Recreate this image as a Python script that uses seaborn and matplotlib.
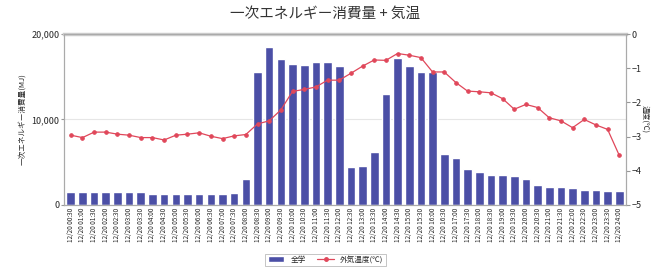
import matplotlib
matplotlib.use("Agg")
import matplotlib.pyplot as plt
import matplotlib.ticker as mticker
import seaborn as sns
import pandas as pd
from matplotlib.lines import Line2D
from matplotlib.patches import Patch

# ---- data ----
times = ["00:30", "01:00", "01:30", "02:00", "02:30", "03:00", "03:30", "04:00",
         "04:30", "05:00", "05:30", "06:00", "06:30", "07:00", "07:30", "08:00",
         "08:30", "09:00", "09:30", "10:00", "10:30", "11:00", "11:30", "12:00",
         "12:30", "13:00", "13:30", "14:00", "14:30", "15:00", "15:30", "16:00",
         "16:30", "17:00", "17:30", "18:00", "18:30", "19:00", "19:30", "20:00",
         "20:30", "21:00", "21:30", "22:00", "22:30", "23:00", "23:30", "24:00"]
labels = ["12/20 " + t for t in times]

energy = [1480, 1480, 1480, 1480, 1480, 1480, 1480, 1300, 1300, 1300, 1300, 1300,
          1300, 1300, 1370, 3050, 15500, 18450, 17050, 16500, 16400, 16700, 16700, 16200,
          4450, 4550, 6200, 13000, 17200, 16200, 15500, 15500, 6000, 5550, 4200, 3900,
          3550, 3450, 3350, 3000, 2350, 2150, 2100, 1950, 1800, 1700, 1600, 1580]

temp = [-2.96, -3.03, -2.87, -2.87, -2.93, -2.96, -3.03, -3.03, -3.10, -2.96, -2.93, -2.89,
        -2.99, -3.06, -2.98, -2.94, -2.63, -2.54, -2.22, -1.68, -1.62, -1.55, -1.35, -1.35,
        -1.15, -0.94, -0.76, -0.77, -0.57, -0.62, -0.69, -1.11, -1.11, -1.42, -1.67, -1.69,
        -1.72, -1.89, -2.20, -2.06, -2.15, -2.45, -2.54, -2.74, -2.50, -2.66, -2.79, -3.55]

bar_label = "全学"
line_label = "外気温度(℃)"

df = pd.DataFrame({"time": labels, "energy": energy, "temp": temp})

sns.set_style("white")
plt.rcParams['font.family'] = ['Noto Sans CJK JP', 'DejaVu Sans']

bar_color = "#4b4fa6"
line_color = "#e0475a"

fig = plt.figure(figsize=(6.51, 2.70), dpi=100)
ax = fig.add_axes([0.098, 0.241, 0.864, 0.633])

sns.barplot(data=df, x="time", y="energy", color=bar_color, saturation=1,
            width=0.74, ax=ax)
ax.set_ylim(0, 20000)
ax.set_yticks([0, 10000, 20000])
ax.yaxis.set_major_formatter(mticker.StrMethodFormatter("{x:,.0f}"))
ax.grid(axis="y", color="#e6e6e6", linewidth=0.8)
ax.set_axisbelow(True)
ax.set_xlabel("")
ax.set_ylabel("一次エネルギー消費量(MJ)", fontsize=5.5, labelpad=4)
ax.tick_params(axis="y", labelsize=6.5, length=2, pad=1, left=True, color="#999999")
ax.tick_params(axis="x", labelsize=4.6, rotation=90, length=0, pad=2)
ax.set_xlim(-0.6, len(labels) - 0.4)

ax2 = ax.twinx()
sns.pointplot(data=df, x="time", y="temp", color=line_color, markers="o",
              markersize=2.6, linewidth=0.9, ax=ax2)
ax2.set_ylim(-5, 0)
ax2.set_yticks([0, -1, -2, -3, -4, -5])
ax2.set_ylabel("温度(℃)", fontsize=5.5, rotation=270, labelpad=5)
ax2.tick_params(axis="y", labelsize=6.5, length=3, pad=1, right=True, color="#999999")
ax2.set_xlim(-0.6, len(labels) - 0.4)
ax2.set_xlabel("")

for a in (ax, ax2):
    for s in a.spines.values():
        s.set_color("#aaaaaa")
        s.set_linewidth(0.8)
ax.spines["top"].set_linewidth(2.5)
ax.spines["top"].set_color("#cccccc")

fig.suptitle("一次エネルギー消費量 + 気温", fontsize=10.5, y=0.975, color="#333333")

handles = [Patch(facecolor=bar_color, label=bar_label),
           Line2D([0], [0], color=line_color, marker="o", markersize=2.5,
                  linewidth=0.9, label=line_label)]
leg = fig.legend(handles=handles, loc="lower center", bbox_to_anchor=(0.5, 0.0),
                 ncol=2, fontsize=5.5, frameon=True, fancybox=False,
                 handlelength=2.2, handleheight=0.8, columnspacing=1.5,
                 borderpad=0.3)
leg.get_frame().set_edgecolor("#aaaaaa")
leg.get_frame().set_linewidth(0.6)

fig.savefig("out.png", dpi=100)
